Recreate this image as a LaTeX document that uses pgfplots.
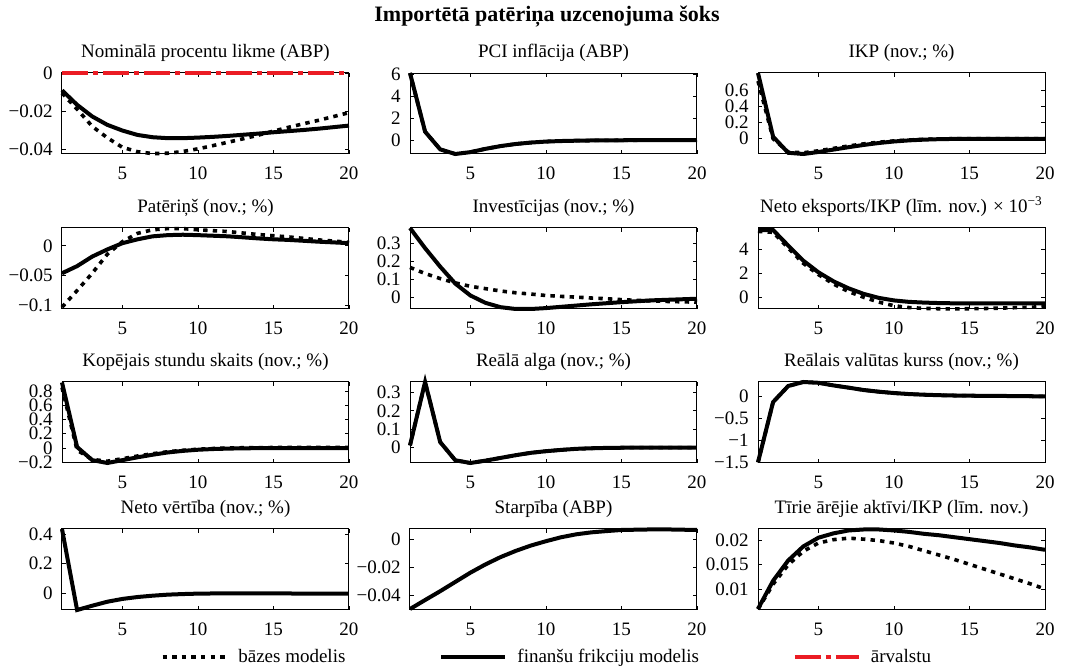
\documentclass[border=0pt]{standalone}
\usepackage{fontspec}
\setmainfont{Liberation Serif}
\usepackage{pgfplots}
\pgfplotsset{compat=1.18}
\definecolor{frgn}{RGB}{235,28,36}
\pgfplotsset{
  pan/.style={scale only axis, width=143.5pt, height=40.5pt, xmin=1, xmax=20,
    xtick={5,10,15,20}, xticklabels={5,10,15,20}, anchor=south west, clip=false,
    scaled y ticks=false, scaled x ticks=false,
    tick align=inside, major tick length=2pt, axis line style={line width=0.5pt},
    every tick/.style={black, line width=0.4pt},
    xticklabel style={yshift=-3.3pt}, yticklabel style={xshift=-1.3pt},
    title style={yshift=-3.8pt},
    legend image code/.code={\draw[##1] (0pt,0pt) -- (32pt,0pt);}},
  base/.style={black, line width=1.8pt, dash pattern=on 2.2pt off 2.6pt},
  fin/.style={black, line width=2pt},
  fore/.style={frgn, line width=2pt, dash pattern=on 13pt off 2.5pt on 2.5pt off 2.5pt},
}
\begin{document}
\fontsize{9.5}{11}\selectfont
\begin{tikzpicture}
\useasboundingbox (0,0) rectangle (533.5pt,334.5pt);
\node[font=\fontsize{11}{13}\selectfont\bfseries] at (273.5pt,326pt) {Importētā patēriņa uzcenojuma šoks};
% Row 1
\begin{axis}[pan, at={(31pt,257.5pt)}, title={Nominālā procentu likme (ABP)},
  ymin=-0.0425, ymax=0, ytick={-0.04,-0.02,0}, yticklabels={−0.04,−0.02,0}]
\addplot[base] coordinates {(1,-0.0105)(2,-0.019)(3,-0.028)(4,-0.034)(5,-0.039)(6,-0.0413)(7,-0.0423)(8,-0.0421)(9,-0.0412)(10,-0.0398)(11,-0.0381)(12,-0.0363)(13,-0.0345)(14,-0.0326)(15,-0.0305)(16,-0.0285)(17,-0.0266)(18,-0.0248)(19,-0.0228)(20,-0.0208)};
\addplot[fin] coordinates {(1,-0.0091)(2,-0.0167)(3,-0.0228)(4,-0.0272)(5,-0.0302)(6,-0.0325)(7,-0.0337)(8,-0.0342)(9,-0.0342)(10,-0.0339)(11,-0.0335)(12,-0.0330)(13,-0.0324)(14,-0.0318)(15,-0.0311)(16,-0.0305)(17,-0.0299)(18,-0.0292)(19,-0.0284)(20,-0.0276)};
\addplot[fore] coordinates {(1,0)(20,0)};
\end{axis}
\begin{axis}[pan, at={(205pt,257.5pt)}, title={PCI inflācija (ABP)},
  ymin=-1.27, ymax=6.1, ytick={0,2,4,6}, yticklabels={0,2,4,6}]
\addplot[base] coordinates {(1,6.1)(2,0.76)(3,-0.85)(4,-1.27)(5,-1.1)(6,-0.8)(7,-0.55)(8,-0.36)(9,-0.23)(10,-0.14)(11,-0.09)(12,-0.06)(13,-0.04)(14,-0.03)(15,-0.02)(16,-0.015)(17,-0.01)(18,-0.01)(19,-0.005)(20,0)};
\addplot[fin] coordinates {(1,6.1)(2,0.76)(3,-0.85)(4,-1.27)(5,-1.1)(6,-0.8)(7,-0.55)(8,-0.36)(9,-0.23)(10,-0.14)(11,-0.09)(12,-0.06)(13,-0.04)(14,-0.03)(15,-0.02)(16,-0.015)(17,-0.01)(18,-0.01)(19,-0.005)(20,0)};
\end{axis}
\begin{axis}[pan, at={(379pt,257.5pt)}, title={IKP (nov.; \%)},
  ymin=-0.19, ymax=0.82, ytick={0,0.2,0.4,0.6}, yticklabels={0,0.2,0.4,0.6}]
\addplot[base] coordinates {(1,0.72)(2,0.0)(3,-0.165)(4,-0.175)(5,-0.15)(6,-0.12)(7,-0.09)(8,-0.064)(9,-0.043)(10,-0.027)(11,-0.015)(12,-0.007)(13,-0.002)(14,0)(15,0.002)(16,0.002)(17,0.002)(18,0.002)(19,0.002)(20,0.002)};
\addplot[fin] coordinates {(1,0.82)(2,0.025)(3,-0.175)(4,-0.19)(5,-0.165)(6,-0.135)(7,-0.105)(8,-0.077)(9,-0.053)(10,-0.034)(11,-0.02)(12,-0.011)(13,-0.005)(14,-0.002)(15,0)(16,0)(17,0)(18,0)(19,0)(20,0)};
\end{axis}
% Row 2
\begin{axis}[pan, at={(31pt,180pt)}, title={Patēriņš (nov.; \%)},
  ymin=-0.106, ymax=0.030, ytick={-0.1,-0.05,0}, yticklabels={−0.1,−0.05,0}]
\addplot[base] coordinates {(1,-0.103)(2,-0.075)(3,-0.046)(4,-0.014)(5,0.007)(6,0.021)(7,0.027)(8,0.029)(9,0.029)(10,0.027)(11,0.0255)(12,0.024)(13,0.0215)(14,0.019)(15,0.017)(16,0.015)(17,0.0125)(18,0.010)(19,0.008)(20,0.006)};
\addplot[fin] coordinates {(1,-0.046)(2,-0.034)(3,-0.018)(4,-0.006)(5,0.0045)(6,0.011)(7,0.016)(8,0.018)(9,0.0187)(10,0.018)(11,0.017)(12,0.016)(13,0.0143)(14,0.0125)(15,0.011)(16,0.010)(17,0.0085)(18,0.007)(19,0.0058)(20,0.0045)};
\end{axis}
\begin{axis}[pan, at={(205pt,180pt)}, title={Investīcijas (nov.; \%)},
  ymin=-0.066, ymax=0.384, ytick={0,0.1,0.2,0.3}, yticklabels={0,0.1,0.2,0.3}]
\addplot[base] coordinates {(1,0.165)(2,0.131)(3,0.103)(4,0.079)(5,0.06)(6,0.047)(7,0.034)(8,0.024)(9,0.017)(10,0.009)(11,0.004)(12,0.0)(13,-0.005)(14,-0.009)(15,-0.014)(16,-0.018)(17,-0.021)(18,-0.024)(19,-0.026)(20,-0.028)};
\addplot[fin] coordinates {(1,0.384)(2,0.272)(3,0.169)(4,0.075)(5,0.009)(6,-0.032)(7,-0.056)(8,-0.066)(9,-0.066)(10,-0.061)(11,-0.054)(12,-0.047)(13,-0.040)(14,-0.034)(15,-0.028)(16,-0.023)(17,-0.018)(18,-0.015)(19,-0.012)(20,-0.009)};
\end{axis}
\begin{axis}[pan, at={(379pt,180pt)}, title={Neto eksports/IKP (līm. nov.) × 10\textsuperscript{−3}},
  ymin=-0.97, ymax=5.74, ytick={0,2,4}, yticklabels={0,2,4}]
\addplot[base] coordinates {(1,5.46)(2,5.38)(3,4.08)(4,2.81)(5,1.88)(6,1.1)(7,0.47)(8,0.0)(9,-0.4)(10,-0.7)(11,-0.85)(12,-0.92)(13,-0.95)(14,-0.96)(15,-0.95)(16,-0.93)(17,-0.9)(18,-0.86)(19,-0.82)(20,-0.78)};
\addplot[fin] coordinates {(1,5.57)(2,5.57)(3,4.28)(4,3.03)(5,2.07)(6,1.32)(7,0.74)(8,0.28)(9,-0.05)(10,-0.26)(11,-0.38)(12,-0.44)(13,-0.48)(14,-0.5)(15,-0.5)(16,-0.5)(17,-0.5)(18,-0.5)(19,-0.5)(20,-0.5)};
\end{axis}
% Row 3
\begin{axis}[pan, at={(31pt,103pt)}, title={Kopējais stundu skaits (nov.; \%)},
  ymin=-0.21, ymax=0.927, ytick={-0.2,0,0.2,0.4,0.6,0.8}, yticklabels={−0.2,0,0.2,0.4,0.6,0.8}]
\addplot[base] coordinates {(1,0.85)(2,-0.03)(3,-0.16)(4,-0.185)(5,-0.15)(6,-0.112)(7,-0.08)(8,-0.052)(9,-0.032)(10,-0.017)(11,-0.007)(12,0)(13,0.004)(14,0.006)(15,0.007)(16,0.007)(17,0.007)(18,0.007)(19,0.007)(20,0.007)};
\addplot[fin] coordinates {(1,0.92)(2,0.014)(3,-0.17)(4,-0.21)(5,-0.17)(6,-0.13)(7,-0.094)(8,-0.062)(9,-0.04)(10,-0.024)(11,-0.014)(12,-0.008)(13,-0.004)(14,-0.002)(15,0)(16,0)(17,0)(18,0)(19,0)(20,0)};
\end{axis}
\begin{axis}[pan, at={(205pt,103pt)}, title={Reālā alga (nov.; \%)},
  ymin=-0.087, ymax=0.359, ytick={0,0.1,0.2,0.3}, yticklabels={0,0.1,0.2,0.3}]
\addplot[base] coordinates {(1,0.01)(2,0.359)(3,0.028)(4,-0.072)(5,-0.087)(6,-0.074)(7,-0.059)(8,-0.044)(9,-0.031)(10,-0.022)(11,-0.015)(12,-0.009)(13,-0.006)(14,-0.004)(15,-0.003)(16,-0.002)(17,-0.002)(18,-0.002)(19,-0.002)(20,-0.002)};
\addplot[fin] coordinates {(1,0.01)(2,0.359)(3,0.028)(4,-0.072)(5,-0.087)(6,-0.074)(7,-0.059)(8,-0.044)(9,-0.031)(10,-0.022)(11,-0.015)(12,-0.009)(13,-0.006)(14,-0.004)(15,-0.003)(16,-0.002)(17,-0.002)(18,-0.002)(19,-0.002)(20,-0.002)};
\end{axis}
\begin{axis}[pan, at={(379pt,103pt)}, title={Reālais valūtas kurss (nov.; \%)},
  ymin=-1.515, ymax=0.318, ytick={-1.5,-1,-0.5,0}, yticklabels={−1.5,−1,−0.5,0}]
\addplot[base] coordinates {(1,-1.5)(2,-0.136)(3,0.227)(4,0.318)(5,0.30)(6,0.24)(7,0.19)(8,0.136)(9,0.098)(10,0.068)(11,0.045)(12,0.03)(13,0.019)(14,0.012)(15,0.008)(16,0.004)(17,0.002)(18,0)(19,-0.004)(20,-0.008)};
\addplot[fin] coordinates {(1,-1.5)(2,-0.136)(3,0.227)(4,0.318)(5,0.30)(6,0.24)(7,0.19)(8,0.136)(9,0.098)(10,0.068)(11,0.045)(12,0.03)(13,0.019)(14,0.012)(15,0.008)(16,0.004)(17,0.002)(18,0)(19,-0.004)(20,-0.008)};
\end{axis}
% Row 4
\begin{axis}[pan, at={(31pt,29.5pt)}, title={Neto vērtība (nov.; \%)},
  ymin=-0.113, ymax=0.436, ytick={0,0.2,0.4}, yticklabels={0,0.2,0.4}]
\addplot[fin] coordinates {(1,0.436)(2,-0.113)(3,-0.084)(4,-0.057)(5,-0.038)(6,-0.025)(7,-0.016)(8,-0.009)(9,-0.005)(10,-0.002)(11,-0.001)(12,0)(13,0)(14,0)(15,0)(16,-0.001)(17,-0.002)(18,-0.002)(19,-0.002)(20,-0.002)};
\end{axis}
\begin{axis}[pan, at={(205pt,29.5pt)}, title={Starpība (ABP)},
  ymin=-0.0506, ymax=0.0071, ytick={-0.04,-0.02,0}, yticklabels={−0.04,−0.02,0},
  legend columns=3,
  legend style={at={(0.491,-0.58)}, anchor=center, draw=none, fill=none,
    nodes={inner xsep=5pt},
    /tikz/every even column/.append style={column sep=42pt}}]
\addlegendimage{base}
\addplot[fin] coordinates {(1,-0.0499)(2,-0.0435)(3,-0.0372)(4,-0.0306)(5,-0.024)(6,-0.0181)(7,-0.0129)(8,-0.0085)(9,-0.0047)(10,-0.0016)(11,0.0012)(12,0.0033)(13,0.0047)(14,0.0056)(15,0.0064)(16,0.0066)(17,0.0068)(18,0.0068)(19,0.0066)(20,0.0064)};
\addlegendimage{fore}
\legend{bāzes modelis, finanšu frikciju modelis, ārvalstu}
\end{axis}
\begin{axis}[pan, at={(379pt,29.5pt)}, title={Tīrie ārējie aktīvi/IKP (līm. nov.)},
  ymin=0.00566, ymax=0.0224, ytick={0.01,0.015,0.02}, yticklabels={0.01,0.015,0.02}]
\addplot[base] coordinates {(1,0.0058)(2,0.011)(3,0.015)(4,0.0178)(5,0.0195)(6,0.0202)(7,0.0205)(8,0.0203)(9,0.02)(10,0.0195)(11,0.0188)(12,0.0179)(13,0.017)(14,0.0161)(15,0.0151)(16,0.0141)(17,0.0131)(18,0.0121)(19,0.0111)(20,0.01)};
\addplot[fin] coordinates {(1,0.0059)(2,0.0117)(3,0.0159)(4,0.0188)(5,0.0206)(6,0.0215)(7,0.0221)(8,0.0223)(9,0.0223)(10,0.0221)(11,0.0218)(12,0.0214)(13,0.0211)(14,0.0207)(15,0.0203)(16,0.0199)(17,0.0195)(18,0.019)(19,0.0186)(20,0.0181)};
\end{axis}
\end{tikzpicture}
\end{document}
